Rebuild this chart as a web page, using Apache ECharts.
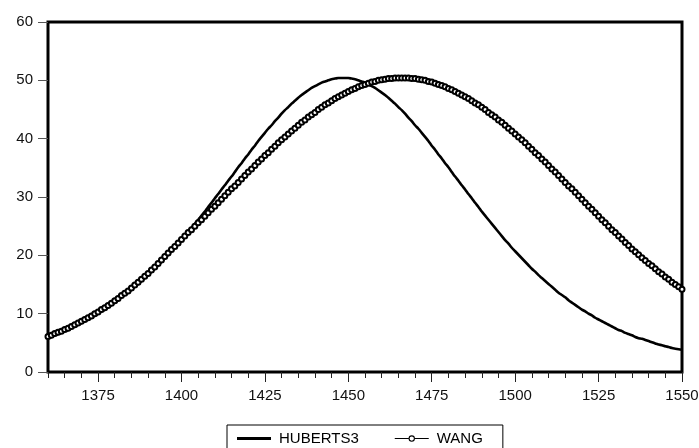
<!DOCTYPE html>
<html>
<head>
<meta charset="utf-8">
<title>HUBERTS3 vs WANG</title>
<script src="https://cdn.jsdelivr.net/npm/echarts@6/dist/echarts.min.js"></script>
<style>
  html, body { margin: 0; padding: 0; background: #fff; }
  #chart { width: 699px; height: 448px; }
</style>
</head>
<body>
<div id="chart"></div>
<script>
// x categories: one value per year, 1360..1550
const FIRST_YEAR = 1360;
const LAST_YEAR = 1550;
const years = [];
for (let y = FIRST_YEAR; y <= LAST_YEAR; y++) years.push(y);

const xLabels = [1375, 1400, 1425, 1450, 1475, 1500, 1525, 1550];
const xMinorTicks = [1360, 1365, 1370, 1375, 1380, 1385, 1390, 1395, 1400, 1405, 1410, 1415, 1420,
  1425, 1430, 1435, 1440, 1445, 1450, 1455, 1460, 1465, 1470, 1475, 1480, 1485, 1490, 1495, 1500,
  1505, 1510, 1515, 1520, 1525, 1530, 1535, 1540, 1545, 1550];

// values, one per year
const huberts3 = [
  5.8, 6.0, 6.3, 6.5, 6.7, 7.0, 7.2, 7.5, 7.8, 8.1,
  8.4, 8.7, 9.0, 9.3, 9.7, 10.0, 10.4, 10.7, 11.1, 11.5,
  11.9, 12.3, 12.8, 13.2, 13.6, 14.1, 14.6, 15.1, 15.6, 16.1,
  16.6, 17.2, 17.7, 18.3, 18.9, 19.5, 20.1, 20.7, 21.3, 22.0,
  22.6, 23.3, 24.0, 24.7, 25.4, 26.1, 26.8, 27.5, 28.3, 29.0,
  29.8, 30.5, 31.3, 32.0, 32.8, 33.5, 34.3, 35.1, 35.8, 36.6,
  37.3, 38.1, 38.8, 39.6, 40.3, 41.0, 41.7, 42.3, 43.0, 43.6,
  44.3, 44.9, 45.4, 46.0, 46.5, 47.0, 47.5, 47.9, 48.3, 48.7,
  49.0, 49.3, 49.6, 49.8, 50.0, 50.2, 50.3, 50.4, 50.4, 50.4,
  50.4, 50.3, 50.2, 50.0, 49.8, 49.6, 49.3, 49.0, 48.7, 48.3,
  47.9, 47.5, 47.0, 46.5, 46.0, 45.4, 44.9, 44.3, 43.6, 43.0,
  42.3, 41.7, 41.0, 40.3, 39.6, 38.8, 38.1, 37.3, 36.6, 35.8,
  35.1, 34.3, 33.5, 32.8, 32.0, 31.3, 30.5, 29.8, 29.0, 28.3,
  27.5, 26.8, 26.1, 25.4, 24.7, 24.0, 23.3, 22.6, 22.0, 21.3,
  20.7, 20.1, 19.5, 18.9, 18.3, 17.7, 17.2, 16.6, 16.1, 15.6,
  15.1, 14.6, 14.1, 13.6, 13.2, 12.8, 12.3, 11.9, 11.5, 11.1,
  10.7, 10.4, 10.0, 9.7, 9.3, 9.0, 8.7, 8.4, 8.1, 7.8,
  7.5, 7.2, 7.0, 6.7, 6.5, 6.3, 6.0, 5.8, 5.7, 5.5,
  5.3, 5.1, 4.9, 4.7, 4.6, 4.4, 4.3, 4.1, 4.0, 3.9,
  3.8
];

const wang = [
  6.1, 6.3, 6.6, 6.8, 7.0, 7.3, 7.5, 7.8, 8.1, 8.4,
  8.7, 9.0, 9.3, 9.6, 10.0, 10.3, 10.7, 11.0, 11.4, 11.8,
  12.2, 12.6, 13.1, 13.5, 13.9, 14.4, 14.9, 15.4, 15.9, 16.4,
  16.9, 17.5, 18.0, 18.6, 19.2, 19.8, 20.4, 21.0, 21.5, 22.1,
  22.7, 23.3, 23.9, 24.4, 25.0, 25.6, 26.1, 26.7, 27.3, 27.9,
  28.4, 29.0, 29.6, 30.2, 30.8, 31.4, 31.9, 32.5, 33.1, 33.7,
  34.3, 34.8, 35.4, 36.0, 36.5, 37.1, 37.6, 38.2, 38.7, 39.3,
  39.8, 40.3, 40.8, 41.3, 41.8, 42.3, 42.8, 43.2, 43.7, 44.1,
  44.5, 45.0, 45.4, 45.8, 46.1, 46.5, 46.9, 47.2, 47.5, 47.8,
  48.1, 48.4, 48.6, 48.9, 49.1, 49.3, 49.5, 49.7, 49.8, 50.0,
  50.1, 50.2, 50.3, 50.3, 50.4, 50.4, 50.4, 50.4, 50.4, 50.3,
  50.3, 50.2, 50.1, 50.0, 49.8, 49.7, 49.5, 49.3, 49.1, 48.9,
  48.6, 48.4, 48.1, 47.8, 47.5, 47.2, 46.9, 46.5, 46.1, 45.8,
  45.4, 45.0, 44.5, 44.1, 43.7, 43.2, 42.8, 42.3, 41.8, 41.3,
  40.8, 40.3, 39.8, 39.3, 38.7, 38.2, 37.6, 37.1, 36.5, 36.0,
  35.4, 34.8, 34.3, 33.7, 33.1, 32.5, 31.9, 31.4, 30.8, 30.2,
  29.6, 29.0, 28.4, 27.9, 27.3, 26.7, 26.1, 25.6, 25.0, 24.4,
  23.9, 23.3, 22.8, 22.2, 21.7, 21.1, 20.6, 20.1, 19.6, 19.1,
  18.6, 18.2, 17.7, 17.2, 16.8, 16.3, 15.9, 15.4, 15.0, 14.6,
  14.2
];

const FONT = "'Liberation Sans', Arial, sans-serif";

// legend glyphs: a thick bar, and a thin bar broken by a small open ring
const ICON_SOLID = "path://M0,0L35,0L35,3L0,3Z";
const ICON_RING = "path://M0,3L13,3L13,4L0,4Z M19,3L32,3L32,4L19,4Z " +
  "M16,0.5A3,3 0 1 1 15.99,0.5Z M16,1.5A2,2 0 1 0 16.01,1.5Z";

const chart = echarts.init(document.getElementById("chart"), null, { renderer: "canvas" });

chart.setOption({
  animation: false,
  backgroundColor: "#fff",
  grid: {
    left: 48,
    right: 17,
    top: 22,
    bottom: 76,
    show: true,
    borderColor: "#000",
    borderWidth: 3,
    backgroundColor: "#fff",
    outerBoundsMode: "none",
  },
  legend: {
    data: [
      { name: "HUBERTS3", icon: ICON_SOLID, itemStyle: { color: "#000", borderWidth: 0 } },
      { name: "WANG", icon: ICON_RING, itemStyle: { color: "#000", borderWidth: 0 } },
    ],
    left: 227,
    top: 425,
    orient: "horizontal",
    padding: [6, 20, 10, 10],
    itemWidth: 34,
    itemHeight: 8,
    itemGap: 36,
    borderColor: "#000",
    borderWidth: 1,
    borderRadius: 0,
    selectedMode: false,
    textStyle: { fontFamily: FONT, fontSize: 15, color: "#000", padding: [0, 0, 0, 3] },
  },
  xAxis: [
    {
      type: "value",
      min: FIRST_YEAR,
      max: LAST_YEAR,
      position: "bottom",
      axisLine: { show: false },
      splitLine: { show: false },
      axisTick: {
        show: true,
        customValues: xLabels,
        length: 10,
        lineStyle: { color: "#222", width: 1 },
      },
      axisLabel: {
        show: true,
        customValues: xLabels,
        formatter: (v) => String(v),
        margin: 16,
        fontFamily: FONT,
        fontSize: 15,
        color: "#111",
      },
    },
    {
      type: "value",
      min: FIRST_YEAR,
      max: LAST_YEAR,
      position: "bottom",
      axisLine: { show: false },
      splitLine: { show: false },
      axisLabel: { show: false },
      axisTick: {
        show: true,
        customValues: xMinorTicks,
        length: 6,
        lineStyle: { color: "#222", width: 1 },
      },
    },
  ],
  yAxis: {
    type: "value",
    min: 0,
    max: 60,
    interval: 10,
    axisLine: { show: false },
    splitLine: { show: false },
    axisTick: { show: true, length: 10, lineStyle: { color: "#555", width: 1 } },
    axisLabel: {
      margin: 15,
      fontFamily: FONT,
      fontSize: 15,
      color: "#111",
      padding: [0, 0, 6, 0],
    },
  },
  series: [
    {
      name: "HUBERTS3",
      type: "line",
      xAxisIndex: 0,
      data: years.map((y, i) => [y, huberts3[i]]),
      symbol: "none",
      smooth: 0.3,
      silent: true,
      z: 2,
      lineStyle: { color: "#000", width: 2.6 },
      itemStyle: { color: "#000" },
    },
    {
      name: "WANG",
      type: "line",
      xAxisIndex: 0,
      data: years.map((y, i) => [y, wang[i]]),
      symbol: "emptyCircle",
      symbolSize: 5,
      showAllSymbol: true,
      silent: true,
      z: 3,
      lineStyle: { color: "#000", width: 1 },
      itemStyle: { color: "#000", borderColor: "#000", borderWidth: 1.1 },
    },
  ],
});
</script>
</body>
</html>
